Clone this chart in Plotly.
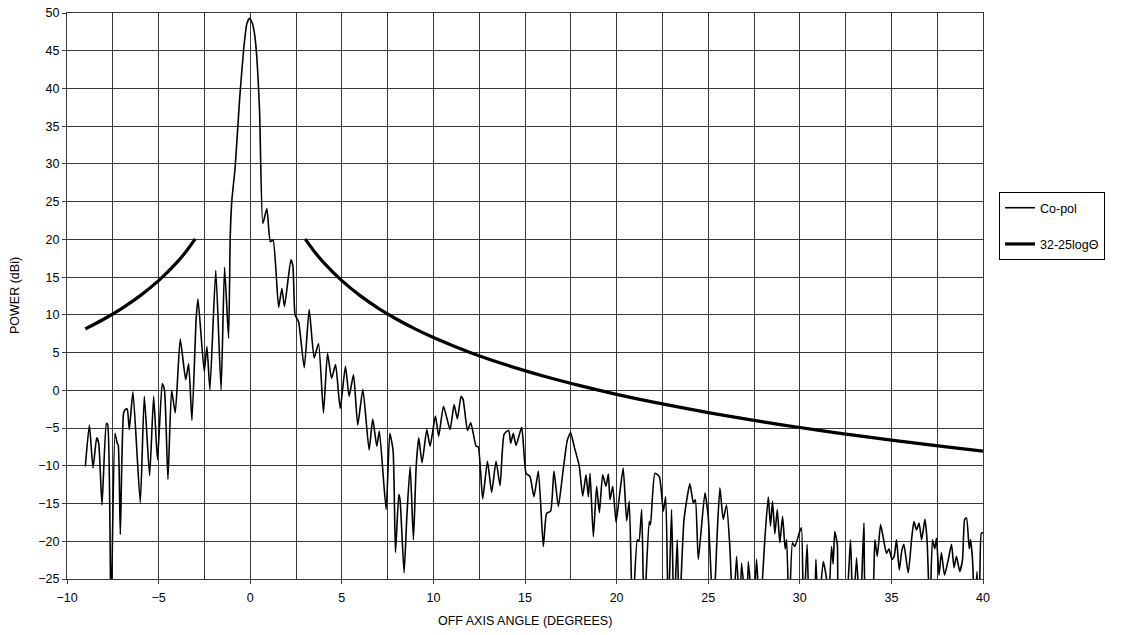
import plotly.graph_objects as go

copol_angle = [
    -9.0, -8.78, -8.58, -8.38, -8.27, -8.09, -7.85, -7.78, -7.6, -7.38, -7.27, -7.2, -7.09,
    -6.91, -6.8, -6.71, -6.6, -6.4, -6.0, -5.78, -5.49, -5.27, -5.06, -4.8, -4.68, -4.49,
    -4.29, -4.09, -3.82, -3.52, -3.36, -3.18, -2.95, -2.85, -2.51, -2.36, -2.2, -1.88,
    -1.59, -1.4, -1.18, -1.09, -1.0, -0.82, -0.58, -0.36, -0.18, -0.04, 0.09, 0.22, 0.33,
    0.51, 0.69, 0.91, 1.1, 1.25, 1.55, 1.73, 1.87, 2.22, 2.33, 2.45, 2.64, 2.95, 3.22,
    3.49, 3.73, 4.0, 4.22, 4.44, 4.66, 4.91, 5.2, 5.4, 5.64, 5.87, 6.15, 6.49, 6.69, 6.91,
    7.05, 7.42, 7.62, 7.8, 7.93, 8.11, 8.18, 8.4, 8.55, 8.73, 8.91, 9.06, 9.2, 9.38, 9.64,
    9.82, 10.11, 10.29, 10.55, 10.91, 11.13, 11.31, 11.51, 11.62, 11.86, 12.04, 12.33,
    12.45, 12.69, 12.95, 13.18, 13.42, 13.64, 13.86, 14.11, 14.22, 14.36, 14.51, 14.82,
    15.06, 15.27, 15.49, 15.73, 16.0, 16.18, 16.4, 16.58, 16.82, 17.06, 17.31, 17.49,
    17.68, 17.96, 18.15, 18.33, 18.46, 18.55, 18.73, 18.91, 19.06, 19.24, 19.42, 19.55,
    19.64, 19.79, 19.97, 20.15, 20.36, 20.55, 20.69, 20.87, 21.13, 21.22, 21.37, 21.5,
    21.78, 21.85, 22.09, 22.33, 22.55, 22.68, 22.82, 23.0, 23.13, 23.31, 23.42, 23.68,
    24.0, 24.19, 24.3, 24.46, 24.82, 25.0, 25.28, 25.5, 25.64, 25.82, 26.0, 26.18, 26.36,
    26.55, 26.73, 26.82, 27.1, 27.19, 27.46, 27.64, 27.82, 28.1, 28.28, 28.4, 28.51,
    28.64, 28.77, 28.91, 29.06, 29.2, 29.28, 29.42, 29.6, 29.73, 29.97, 30.09, 30.2, 30.4,
    30.52, 30.7, 30.8, 30.88, 31.0, 31.28, 31.46, 31.55, 31.73, 31.82, 31.91, 32.05,
    32.15, 32.5, 32.77, 32.9, 33.1, 33.28, 33.37, 33.5, 33.65, 33.9, 34.1, 34.23, 34.41,
    34.59, 34.73, 34.87, 35.03, 35.15, 35.28, 35.43, 35.57, 35.68, 35.92, 36.1, 36.23,
    36.37, 36.51, 36.65, 36.83, 36.95, 37.1, 37.24, 37.37, 37.46, 37.6, 37.73, 37.9,
    38.1, 38.28, 38.42, 38.55, 38.73, 38.88, 39.0, 39.1, 39.25, 39.32, 39.43, 39.55,
    39.67, 39.8, 39.91, 40.0,
]
copol_power = [
    -10.1, -4.6, -10.3, -6.3, -7.0, -15.2, -4.4, -4.5, -30, -5.7, -6.9, -7.3, -19.1,
    -3.0, -2.5, -2.5, -5.2, -0.2, -14.9, -0.8, -11.3, -0.8, -9.2, 0.9, 0.1, -11.8,
    0.0, -3.0, 6.8, 1.4, 3.5, -4.0, 9.5, 12.1, 2.5, 5.8, 0.07, 15.9,
    0.07, 16.3, 6.9, 20.4, 25.2, 29.6, 38.5, 45.1, 48.6, 49.3, 48.8, 47.5, 45.1,
    37.1, 22.1, 24.1, 19.7, 19.9, 11.0, 13.5, 11.1, 17.3, 16.5, 10.0, 9.1, 3.0, 10.7,
    4.3, 6.2, -3.0, 4.9, 1.6, 3.4, -2.4, 3.2, -0.8, 2.1, -4.6, 0.15, -7.9, -3.8, -7.4,
    -5.4, -15.8, -5.7, -8.0, -21.5, -13.8, -14.5, -24.2, -16.7, -10.1, -19.8, -10.1, -6.3, -9.6, -5.2,
    -7.4, -3.4, -6.1, -2.1, -5.2, -1.9, -3.8, -0.8, -1.2, -5.3, -4.3, -7.4,
    -7.5, -14.4, -9.4, -13.5, -9.4, -12.6, -5.8, -5.3, -7.0, -5.7, -7.3, -4.9,
    -11.0, -11.4, -14.1, -10.7, -20.7, -16.3, -16.0, -10.7, -15.4, -11.0, -6.6, -5.6,
    -7.4, -10.0, -14.0, -11.2, -14.1, -11.0, -19.4, -12.7, -16.2, -11.2, -12.7, -11.1,
    -14.5, -12.7, -17.5, -14.1, -10.3, -17.3, -14.7, -30, -19.8, -20.0, -15.8, -30,
    -17.4, -17.8, -11.0, -11.4, -16.0, -14.1, -30, -15.8, -30, -19.8, -30, -17.1,
    -12.4, -14.9, -14.5, -22.4, -13.6, -16.7, -30, -18.5, -12.9, -17.1, -15.2, -20.7, -30,
    -22.0, -30, -22.9, -30, -22.7, -30, -22.4, -30, -19.4, -14.1, -18.0, -14.7,
    -19.0, -15.8, -20.2, -16.7, -21.0, -19.8, -30, -20.2, -20.7, -18.9, -18.2, -30, -20.4,
    -30, -27, -30, -22.4, -30, -22.7, -25, -30, -20.7, -23, -18.7, -20.5,
    -30, -29, -19.8, -30, -22.2, -30, -26, -17.6, -30, -30, -19.8, -22.0, -17.8,
    -20.0, -21.6, -21.0, -22.4, -22.0, -19.8, -23.8, -21.2, -20.4, -24.2, -19.8, -17.4,
    -18.5, -17.6, -19.8, -17.1, -20.0, -30, -19.8, -21.0, -19.6, -24.5, -21.5, -24.5,
    -22.5, -20.4, -23.5, -22.0, -24.0, -22.5, -17.1, -16.9, -21.0, -19.8, -22.5, -30,
    -24.0, -30, -18.9, -18.9,
]

# ---- 32-25logΘ envelope (two branches) ----
mask_angle = [-9, -8, -7, -6, -5, -4, -3.5, -3, None,
              3, 3.5, 4, 5, 6, 7, 8, 9, 10, 12, 14, 16, 18, 20, 22, 25, 28, 30, 32, 35, 38, 40]
mask_power = [8.14, 9.42, 10.87, 12.55, 14.53, 16.95, 18.40, 20.07, None,
              20.07, 18.40, 16.95, 14.53, 12.55, 10.87, 9.42, 8.14, 7.0, 5.02, 3.35, 1.90,
              0.62, -0.53, -1.56, -2.95, -4.18, -4.93, -5.63, -6.60, -7.49, -8.05]

x_ticks = [-10, -5, 0, 5, 10, 15, 20, 25, 30, 35, 40]
y_ticks = [-25, -20, -15, -10, -5, 0, 5, 10, 15, 20, 25, 30, 35, 40, 45, 50]

FONT = "Liberation Sans, Arial, sans-serif"
GRID = "#3a3a3a"

fig = go.Figure()
fig.add_trace(go.Scatter(
    x=copol_angle, y=copol_power, mode="lines", name="Co-pol",
    line=dict(color="black", width=1.6, shape="spline", smoothing=0.5),
    legendgroup="a",
))
fig.add_trace(go.Scatter(
    x=mask_angle, y=mask_power, mode="lines", name="32-25logΘ",
    line=dict(color="black", width=3.2, shape="spline", smoothing=0.8),
    connectgaps=False, legendgroup="b",
))

fig.update_layout(
    width=1122, height=635,
    margin=dict(l=67, r=139, t=12.7, b=55.7, autoexpand=False),
    paper_bgcolor="white", plot_bgcolor="white",
    font=dict(family=FONT, size=12.5, color="black"),
    showlegend=True,
    legend=dict(
        x=1.0175, y=0.6836, xanchor="left", yanchor="top",
        bordercolor="black", borderwidth=1, bgcolor="white",
        font=dict(family=FONT, size=12.5, color="black"),
        tracegroupgap=17, itemwidth=30,
    ),
    xaxis=dict(
        range=[-10, 40], tickvals=x_ticks, ticks="outside", ticklen=4, tickcolor=GRID,
        showgrid=True, gridcolor=GRID, gridwidth=1,
        minor=dict(dtick=2.5, tick0=0, showgrid=True, gridcolor=GRID, gridwidth=1, ticks=""),
        showline=True, linecolor=GRID, linewidth=1, mirror=True,
        zeroline=False, tickfont=dict(size=12.5), automargin=False,
        ticklabelstandoff=3, ticklabeloverflow="allow",
    ),
    yaxis=dict(
        range=[-25, 50], tickvals=y_ticks, ticks="outside", ticklen=4, tickcolor=GRID,
        showgrid=True, gridcolor=GRID, gridwidth=1,
        showline=True, linecolor=GRID, linewidth=1, mirror=True,
        zeroline=False, tickfont=dict(size=12.5), automargin=False,
        ticklabeloverflow="allow",
    ),
    annotations=[
        dict(text="OFF AXIS ANGLE (DEGREES)", xref="paper", yref="paper", x=0.5, y=0,
             xanchor="center", yanchor="middle", yshift=-42, showarrow=False,
             font=dict(family=FONT, size=12.5)),
        dict(text="POWER (dBi)", xref="paper", yref="paper", x=0, y=0.5,
             xanchor="center", yanchor="middle", xshift=-52, textangle=-90, showarrow=False,
             font=dict(family=FONT, size=12.5)),
    ],
)

fig.write_html(
    "out.html",
    config={"displayModeBar": False},
    post_script="document.body.style.margin='0';document.body.style.overflow='hidden';",
)
